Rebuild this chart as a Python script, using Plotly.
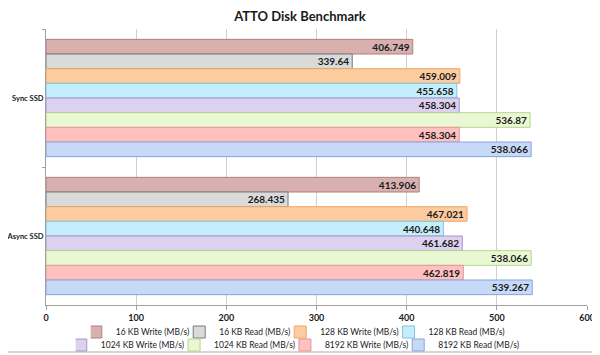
import plotly.graph_objects as go

categories = ["Sync SSD", "Async SSD"]
series_names = [
    "16 KB Write (MB/s)", "16 KB Read (MB/s)", "128 KB Write (MB/s)", "128 KB Read (MB/s)",
    "1024 KB Write (MB/s)", "1024 KB Read (MB/s)", "8192 KB Write (MB/s)", "8192 KB Read (MB/s)",
]
write16 = [406.749, 413.906]
read16 = [339.64, 268.435]
write128 = [459.009, 467.021]
read128 = [455.658, 440.648]
write1024 = [458.304, 461.682]
read1024 = [536.87, 538.066]
write8192 = [458.304, 462.819]
read8192 = [538.066, 539.267]
series_values = [write16, read16, write128, read128, write1024, read1024, write8192, read8192]

fills = ["#d8b0b0", "#dadada", "#fccb9e", "#c4eefa", "#ddd1f0", "#e9f8d3", "#ffc0c0", "#c6d9f7"]
borders = ["#b07f7f", "#7a7a7a", "#eea86a", "#7ec6de", "#a795c8", "#b6d68c", "#e69696", "#88a5d6"]

FONT = "Lato"
W, H = 592, 347          # the page adds an 8px body margin
ML, MR, MT, MB = 38, 12.5, 21, 50
PW, PH = W - ML - MR, H - MT - MB


def page_y_to_paper(py):
    return (PH - (py - 8 - MT)) / PH


fig = go.Figure()
for i, (name, vals) in enumerate(zip(series_names, series_values)):
    fig.add_trace(go.Bar(
        y=categories, x=vals, name=name, orientation="h",
        marker=dict(color=fills[i], line=dict(color=borders[i], width=1)),
        text=[str(v) for v in vals], textposition="inside", insidetextanchor="end",
        textfont=dict(family=FONT, size=10, color="#1a1a1a", weight="bold"),
        constraintext="none",
        legend="legend" if i < 4 else "legend2",
    ))

legend_common = dict(orientation="h", xanchor="center", yanchor="middle",
                     font=dict(family=FONT, size=8.5, color="#1a1a1a"),
                     itemwidth=30, indentation=-15, tracegroupgap=0,
                     bgcolor="rgba(0,0,0,0)")

fig.update_layout(
    width=W, height=H,
    margin=dict(l=ML, r=MR, t=MT, b=MB, autoexpand=False),
    paper_bgcolor="white", plot_bgcolor="white",
    barmode="group", bargap=0.15, bargroupgap=0,
    title=dict(text="<b>ATTO Disk Benchmark</b>", x=292 / W, xanchor="center",
               y=1 - 8 / H, yanchor="middle",
               font=dict(family=FONT, size=13, color="#1a1a1a")),
    font=dict(family=FONT, size=9, color="#1a1a1a"),
    xaxis=dict(range=[0, 600], dtick=100, showgrid=True, gridcolor="#d0d0d0", gridwidth=1,
               zeroline=False, showline=True, linecolor="#a0a0a0", ticks="outside",
               ticklen=4, tickcolor="#a0a0a0",
               tickfont=dict(family=FONT, size=9, color="#1a1a1a", weight="bold")),
    yaxis=dict(autorange="reversed", showline=True, linecolor="#a0a0a0",
               ticks="outside", tickson="boundaries", ticklen=3, tickcolor="#a0a0a0",
               showgrid=False, ticklabelstandoff=0,
               tickfont=dict(family=FONT, size=7.5, color="#1a1a1a", weight="bold")),
    legend=dict(x=0.47, y=page_y_to_paper(332), **legend_common),
    legend2=dict(x=0.47, y=page_y_to_paper(345), **legend_common),
    shapes=[
        dict(type="line", xref="paper", yref="paper", x0=(W - 1.5 - ML) / PW, x1=(W - 1.5 - ML) / PW,
             y0=-(MB - 1) / PH, y1=1 + MT / PH, line=dict(color="#c8c8c8", width=1.5)),
        dict(type="line", xref="paper", yref="paper", x0=-ML / PW, x1=(W - 1.5 - ML) / PW,
             y0=-(MB - 3) / PH, y1=-(MB - 3) / PH, line=dict(color="#c8c8c8", width=1.5)),
    ],
)

fig.write_html("out.html")
